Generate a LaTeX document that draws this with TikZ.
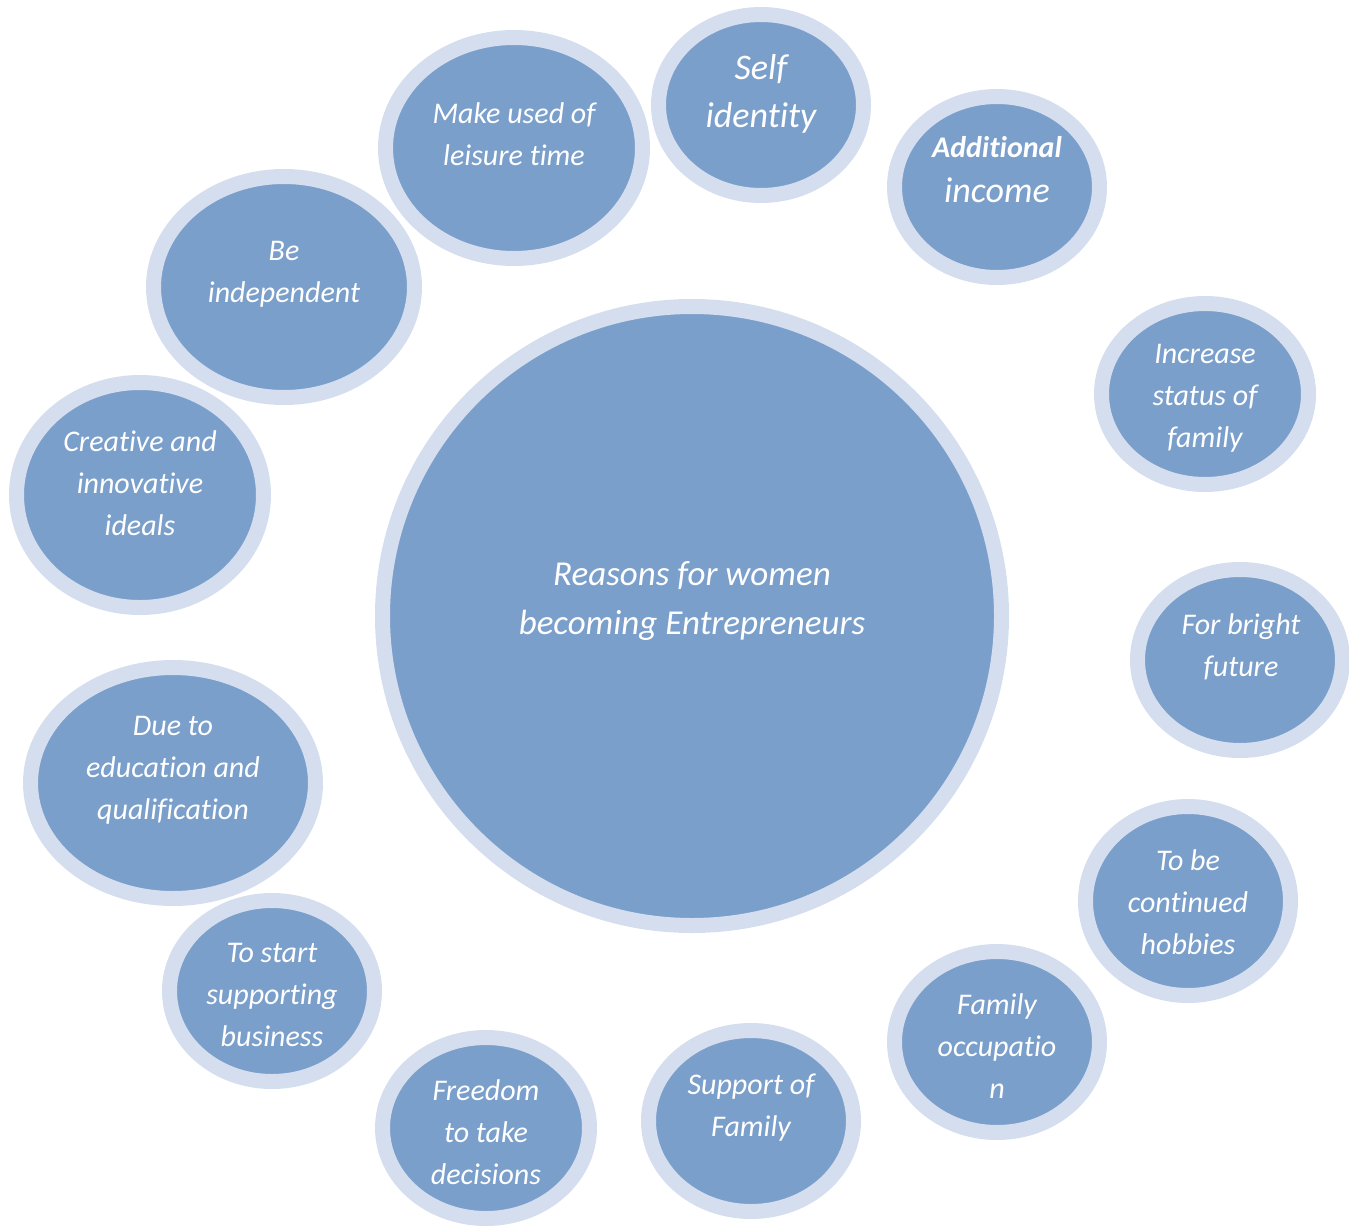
\documentclass[tikz,border=0pt]{standalone}
\usepackage{fontspec}
\setmainfont{Carlito}[Ligatures={NoCommon,NoContextual,NoRare}, Contextuals=NoAlternate]
\usetikzlibrary{shapes.geometric}

\definecolor{reasonfill}{RGB}{123,159,203}
\definecolor{reasonring}{RGB}{212,222,238}

\tikzset{
    reason/.style={ellipse, fill=reasonfill, draw=reasonring, line width=15pt, inner sep=0pt},
    lbl/.style={text=white, align=center, inner sep=0pt, font=\itshape\fontsize{30}{42}\selectfont},
    biglbl/.style={lbl, font=\itshape\fontsize{36}{48}\selectfont}
}

\begin{document}
\begin{tikzpicture}[x=1pt, y=-1pt]
    \useasboundingbox (0,0) rectangle (1349,1226);
    % centre
    \node[reason, minimum width=619, minimum height=619] (hub) at (692,616) {};
    \node[lbl, font=\itshape\fontsize{35}{49}\selectfont] (hub-t) at (692,601) {Reasons for women\\becoming Entrepreneurs};
    % ring of reasons
    \node[reason, minimum width=205, minimum height=181] (self) at (761,105) {};
    \node[biglbl] (self-t) at (761,94) {Self\\identity};
    \node[reason, minimum width=205, minimum height=181] (income) at (997,187) {};
    \node[biglbl, font=\itshape\fontsize{36}{45}\selectfont] (income-t) at (997,170) {{\bfseries\fontsize{30}{45}\selectfont Additional}\\income};
    \node[reason, minimum width=257, minimum height=221] (leisure) at (514,148) {};
    \node[lbl] (leisure-t) at (514,134) {Make used of\\leisure time};
    \node[reason, minimum width=261, minimum height=221] (indep) at (284,287) {};
    \node[lbl] (indep-t) at (284,274) {Be\\independent};
    \node[reason, minimum width=247, minimum height=225] (creative) at (140,495) {};
    \node[lbl] (creative-t) at (140,483) {Creative and\\innovative\\ideals};
    \node[reason, minimum width=207, minimum height=181] (status) at (1205,394) {};
    \node[lbl] (status-t) at (1205,398) {Increase\\status of\\family};
    \node[reason, minimum width=205, minimum height=181] (future) at (1240,660) {};
    \node[lbl] (future-t) at (1241,647) {For bright\\future};
    \node[reason, minimum width=285, minimum height=231] (educ) at (173,783) {};
    \node[lbl] (educ-t) at (173,770) {Due to\\education and\\qualification};
    \node[reason, minimum width=205, minimum height=189] (hobbies) at (1188,901) {};
    \node[lbl] (hobbies-t) at (1188,902) {To be\\continued\\hobbies};
    \node[reason, minimum width=205, minimum height=181] (occup) at (997,1042) {};
    \node[lbl] (occup-t) at (997,1046) {Family\\occupatio\\n};
    \node[reason, minimum width=205, minimum height=181] (startbiz) at (272,991) {};
    \node[lbl] (startbiz-t) at (272,995) {To start\\supporting\\business};
    \node[reason, minimum width=207, minimum height=181] (freedom) at (486,1128) {};
    \node[lbl] (freedom-t) at (486,1132) {Freedom\\to take\\decisions};
    \node[reason, minimum width=205, minimum height=181] (support) at (751,1121) {};
    \node[lbl] (support-t) at (751,1108) {Support of\\Family};
\end{tikzpicture}
\end{document}
